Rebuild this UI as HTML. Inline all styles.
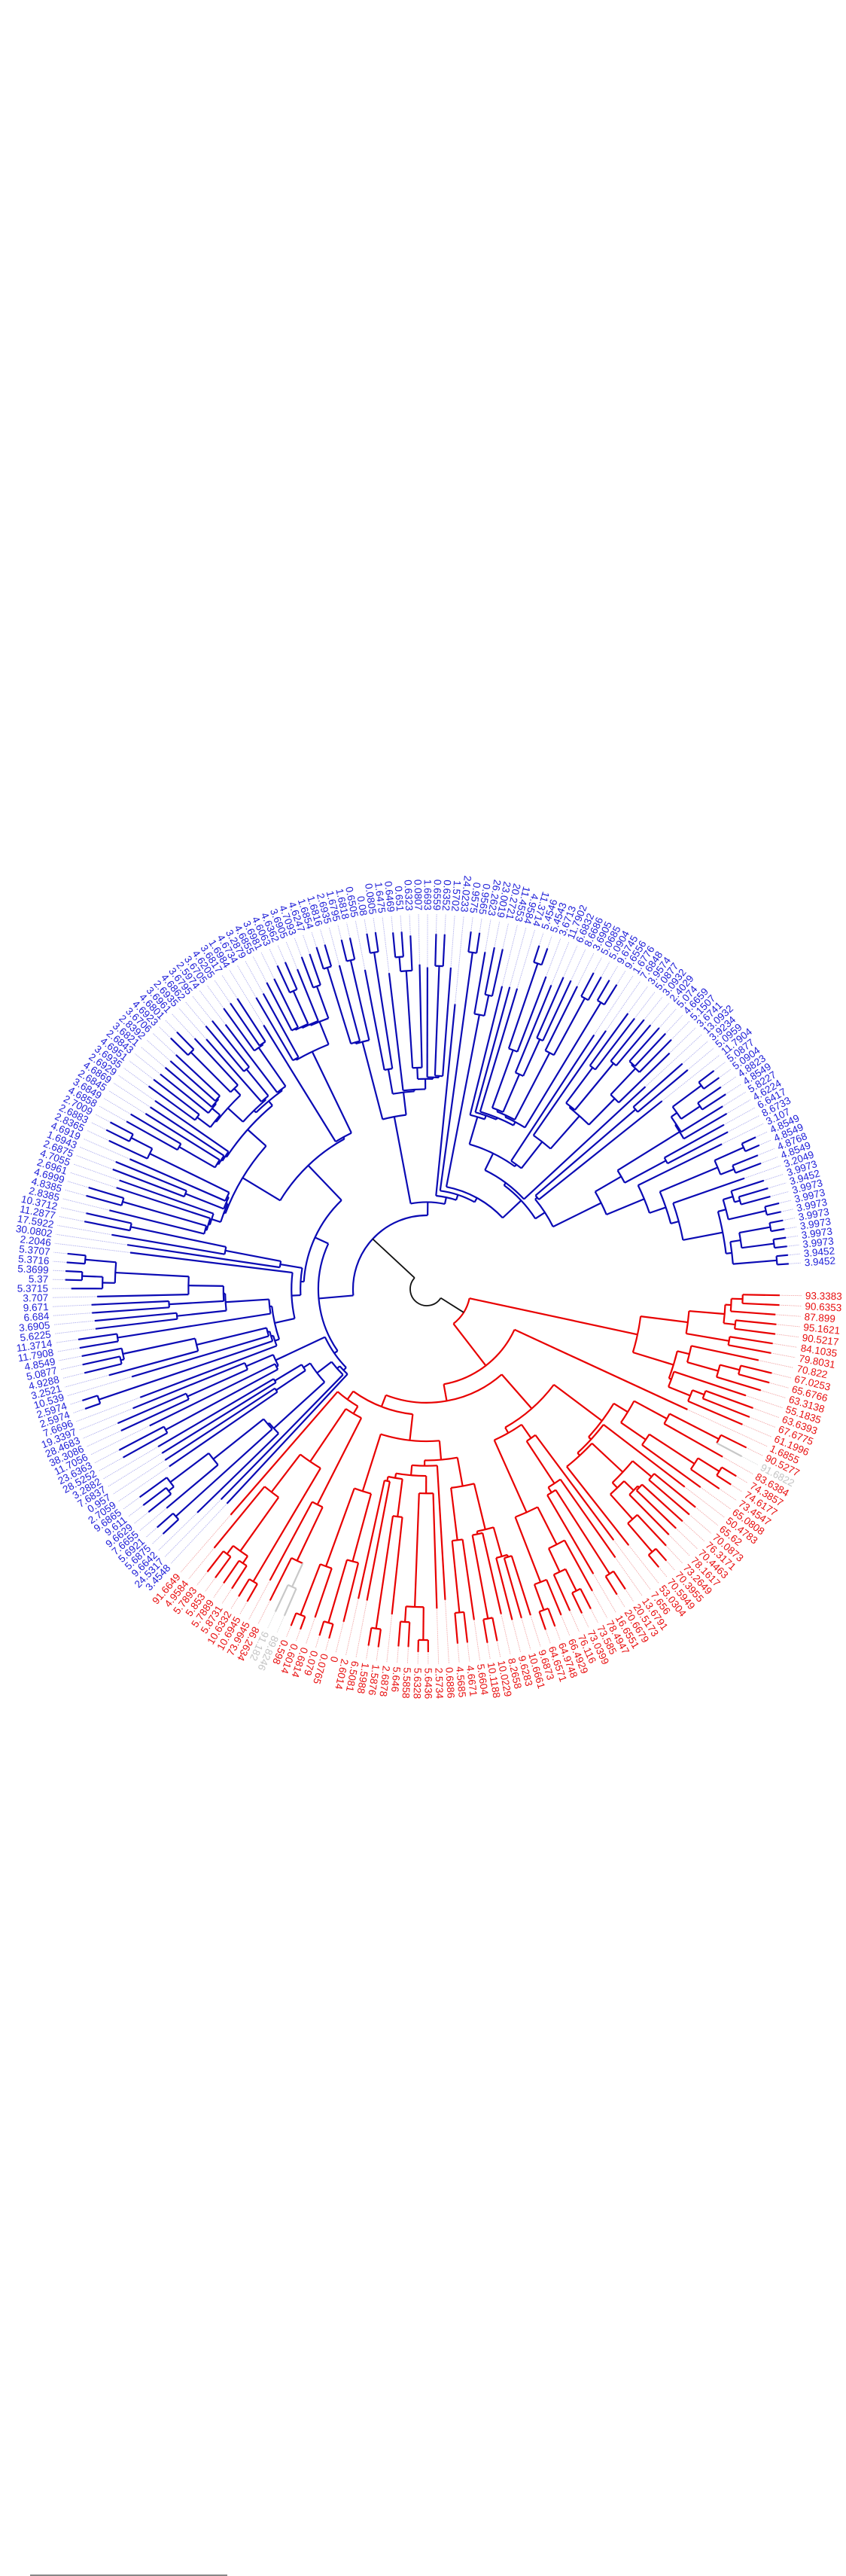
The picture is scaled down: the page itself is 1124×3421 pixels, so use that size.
<!DOCTYPE html>
<html><head><meta charset="utf-8"><title>Circular dendrogram</title>
<style>
html,body{margin:0;padding:0;background:#fff;}
body{width:1124px;height:3421px;position:relative;overflow:hidden;}
svg{position:absolute;left:0;top:0;}
text{font-family:"Liberation Sans",sans-serif;font-size:13.5px;}
</style></head>
<body>
<svg id="chart" width="1124" height="3421" viewBox="0 0 1124 3421">
<g id="tree" transform="translate(567,1712)"></g>
<line x1="40" y1="3420" x2="302" y2="3420" stroke="#888" stroke-width="2"/>
</svg>
<script>
// Blue clade leaf labels, counter-clockwise from right
const blueLabels = ["3.9452","3.9452","3.9973","3.9973","3.9973","3.9973","3.9973","3.9973","3.9973","3.9452","3.9973","3.2049","4.8549","4.8768","4.8549","4.8549","3.107","8.6733","6.6417","4.6224","5.8227","4.8549","4.8823","5.0904","5.0877","11.7904","5.0959","3.9234","13.0932","3.6741","5.1507","4.6659","5.074","2.4029","3.0932","5.0877","3.9574","7.6848","1.6776","9.6556","9.6745","5.0904","5.0685","3.6905","8.6686","6.6832","11.7902","3.6713","5.4543","5.4546","11.3714","4.9584","11.4553","20.2721","23.0019","26.2623","0.9565","0.9575","24.0233","1.5702","0.6352","0.6559","1.6693","0.0807","0.6323","0.651","0.6469","1.6475","0.0805","0.08","0.6505","1.6818","1.6795","2.6935","1.6816","1.6854",
"4.6247","4.7093","3.6905","4.6362","4.6063","3.6981","4.6855","3.2879","4.6734","1.6984","3.6817","4.6205","3.6705","2.5974","3.6795","4.6862","2.6935","3.6961","4.6801","4.6923","3.6706","2.8392","3.6821","2.6843","4.6951","3.6935","2.6929","4.6869","2.6845","3.6849","4.6858","2.7009","2.6883","2.8365","4.6919","1.6943","2.6875","4.7055","2.6961","4.6999","4.8385","2.8385",
"10.3712","11.2877","17.5922","30.0802","2.2046","5.3707","5.3716","5.3699","5.37","5.3715","3.707","9.671","6.684","3.6905","5.6225","11.3714","11.7908","4.8549","5.0877","4.9288","3.2521","10.539","2.5974","2.5974","7.6696","19.3397","28.4683","38.3086","11.7056","23.6363","28.5252","3.2882","7.6837","0.957","2.7059","9.6865","9.611","9.6629","7.6655","5.6921","5.6875","9.6642","24.5317","3.4548"];
// Red clade leaf labels, clockwise from right
const redLabels = ["93.3383","90.6353","87.899","95.1621","90.5217","84.1035","79.8031","70.822","67.0253","65.6766","63.3138","55.1835","63.6393","67.6775","61.1996","1.6855","90.5277","91.6822","83.6384","74.3857","74.6177","73.4547","65.0808","50.4783","65.62","70.0873","76.3171","70.4463","78.1617","73.2649","70.3955","70.5949","53.0304","7.656","13.6791","20.5173","20.6679","16.6551","78.4947","73.585","73.0399","76.116","66.4929","64.9748","64.6571","9.6873","10.6661","9.6283","8.2658","10.0229","10.1188","5.6604","4.6671","4.5685","0.6886","2.5734","5.6436","5.6328","5.5858","5.646","2.6878","1.5876","1.5988","6.5081","2.6014","0","0.0765","0.079","0.6814","0.6014","0.598","89.8246","91.182","86.2634","73.9945","10.6945","10.6332","5.8731","5.7889","5.853","5.7893","4.9584","91.6649"];
// indices (in redLabels) drawn grey
const greyRed = [17,71,72];

const NS="http://www.w3.org/2000/svg";
const G=document.getElementById('tree');
function P(t,r){const a=t*Math.PI/180;return [r*Math.cos(a),-r*Math.sin(a)];}
function el(tag,attrs){const e=document.createElementNS(NS,tag);for(const k in attrs)e.setAttribute(k,attrs[k]);G.appendChild(e);return e;}
function radial(t,r1,r2,col,w,name){const a=P(t,r1),b=P(t,r2);const e=el('line',{x1:a[0].toFixed(2),y1:a[1].toFixed(2),x2:b[0].toFixed(2),y2:b[1].toFixed(2),stroke:col,'stroke-width':w});


return e;}
function arc(t1,t2,r,col,w,name){if(t2<t1){const q=t1;t1=t2;t2=q;}const a=P(t1,r),b=P(t2,r);const lg=(t2-t1)>180?1:0;
const e=el('path',{d:`M${a[0].toFixed(2)},${a[1].toFixed(2)}A${r},${r} 0 ${lg} 0 ${b[0].toFixed(2)},${b[1].toFixed(2)}`,fill:'none',stroke:col,'stroke-width':w});


return e;}

function cluster(labels){
  let cl=labels.map((s,i)=>({leaf:i,v:Math.log1p(parseFloat(s)),n:1,kids:null,step:0}));
  let step=0;
  while(cl.length>1){
    let best=0,bd=1e9;
    for(let i=0;i<cl.length-1;i++){const d=Math.abs(cl[i].v-cl[i+1].v)+0.012*(cl[i].n+cl[i+1].n);if(d<bd){bd=d;best=i;}}
    const a=cl[best],b=cl[best+1];step++;
    const m={leaf:-1,v:(a.v*a.n+b.v*b.n)/(a.n+b.n),n:a.n+b.n,kids:[a,b],step:step};
    cl.splice(best,2,m);
  }
  return {root:cl[0],steps:step};
}

function drawClade(labels,angleOf,col,faint,rRoot,greySet,pw){
  const {root,steps}=cluster(labels);
  const rMax=468;
  function rad(n){return rRoot+(rMax-rRoot)*Math.pow(1-n.step/steps,pw);}
  function isGrey(n){if(n.leaf>=0)return greySet.includes(n.leaf);return n.kids.every(isGrey);}
  function walk(n){
    if(n.leaf>=0){n.t=angleOf(n.leaf);n.r=null;return;}
    n.kids.forEach(walk);
    n.r=rad(n);
    n.t=(n.kids[0].t+n.kids[1].t)/2;
    const c=isGrey(n)?'#c8c8c8':col;
    arc(n.kids[0].t,n.kids[1].t,n.r,c,2.2,'branch-arc');
    n.kids.forEach(k=>{
      const kc=isGrey(k)?'#c8c8c8':col;
      let kr;
      if(k.leaf>=0){kr=n.r+0.7*(490-n.r);if(kr>482)kr=482;
        const f=radial(k.t,kr,498,greySet.includes(k.leaf)?'#dddddd':faint,0.9,'leaf-guide');f.setAttribute('stroke-dasharray','1.5,1');}
      else kr=k.r;
      radial(k.t,n.r,kr,kc,2.2,'branch');
    });
  }
  walk(root);
  return root;
}

const nB=blueLabels.length,nR=redLabels.length;
const bAng=i=>4+i*(223/(nB-1));
const rAng=j=>359-j*(130/(nR-1));
const bRoot=drawClade(blueLabels,bAng,'#0a0ab4','#b0b0ee',98,[],0.6);
const rRoot=drawClade(redLabels,rAng,'#e80000','#f2a8a8',58,greyRed,0.4);

// root connectors
radial(bRoot.t,bRoot.r,22,'#111',1.8,'root-branch-blue');
radial(rRoot.t,rRoot.r,22,'#111',1.8,'root-branch-red');
arc(bRoot.t,rRoot.t,22,'#111',1.8,'root-arc');

// labels
function label(t,txt,col,name){
  const r=503;const p=P(t,r);
  let tt=((t%360)+360)%360;
  const flip=(tt>72&&tt<242);
  const rot=flip?(180-tt):(-tt);
  const e=el('text',{x:p[0].toFixed(2),y:p[1].toFixed(2),fill:col,'text-anchor':flip?'end':'start','dominant-baseline':'central',transform:`rotate(${rot.toFixed(2)} ${p[0].toFixed(2)} ${p[1].toFixed(2)})`});
  
  
  e.textContent=txt;
}
blueLabels.forEach((s,i)=>label(bAng(i),s,'#2020d8','leaf-label-blue'));
redLabels.forEach((s,j)=>label(rAng(j),s,greyRed.includes(j)?'#c4c4c4':'#e81010','leaf-label-red'));
</script>
</body></html>
